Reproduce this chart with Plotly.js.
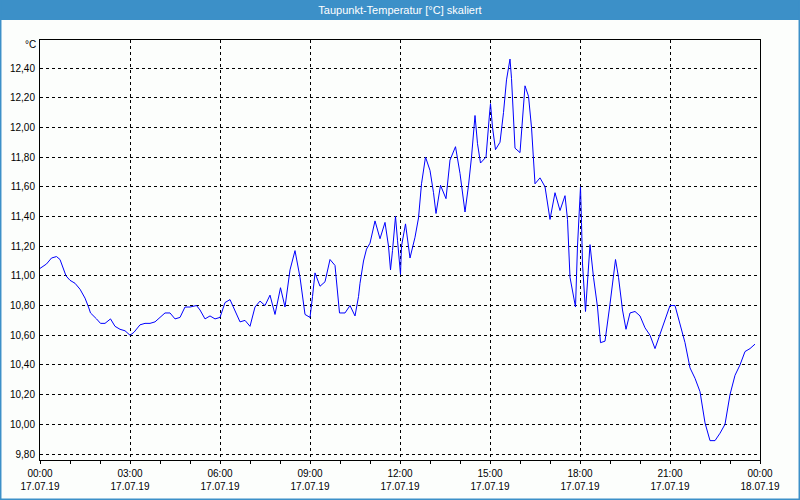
<!DOCTYPE html>
<html><head><meta charset="utf-8">
<script src="https://cdn.plot.ly/plotly-3.0.1.min.js"></script>
<style>html,body{margin:0;padding:0;background:#fcfefc}</style>
</head><body><div id="chart" style="width:800px;height:500px"></div>
<script>
const chartTitle = 'Taupunkt-Temperatur [°C] skaliert';
const unitLabel = '°C';
const day = '2019-07-17';
const times = ["00:00","00:13","00:23","00:33","00:40","00:47","00:52","01:00","01:10","01:20","01:30","01:37","01:41","01:53","02:01","02:10","02:21","02:30","02:40","02:50","03:00","03:08","03:20","03:30","03:40","03:50","04:00","04:10","04:20","04:30","04:40","04:50","05:00","05:13","05:20","05:30","05:40","05:50","06:00","06:10","06:20","06:30","06:40","06:50","07:00","07:10","07:20","07:30","07:40","07:50","08:01","08:10","08:20","08:30","08:40","08:50","09:00","09:05","09:10","09:20","09:30","09:40","09:50","09:59","10:10","10:20","10:30","10:37","10:40","10:47","10:53","11:00","11:10","11:20","11:30","11:37","11:41","11:45","11:51","11:55","11:59","12:01","12:03","12:11","12:20","12:30","12:37","12:43","12:51","13:00","13:07","13:12","13:21","13:32","13:40","13:51","14:00","14:10","14:17","14:23","14:30","14:35","14:41","14:52","14:59","15:01","15:05","15:11","15:20","15:27","15:33","15:40","15:43","15:50","16:00","16:10","16:17","16:23","16:30","16:40","16:50","17:00","17:10","17:20","17:30","17:35","17:40","17:47","17:51","17:55","17:59","18:01","18:03","18:05","18:11","18:20","18:27","18:35","18:41","18:50","19:00","19:11","19:17","19:25","19:32","19:40","19:50","20:00","20:10","20:20","20:30","20:40","20:50","21:00","21:10","21:20","21:30","21:40","21:50","22:00","22:10","22:20","22:30","22:40","22:50","23:00","23:10","23:20","23:30","23:40","23:50"];
const values = [11.05,11.08,11.12,11.13,11.11,11.04,11.00,10.97,10.95,10.91,10.85,10.79,10.75,10.71,10.68,10.68,10.71,10.66,10.64,10.63,10.60,10.62,10.67,10.68,10.68,10.69,10.72,10.75,10.75,10.71,10.72,10.79,10.79,10.80,10.77,10.71,10.73,10.71,10.72,10.82,10.84,10.77,10.69,10.70,10.66,10.79,10.83,10.80,10.87,10.74,10.92,10.79,11.04,11.17,10.99,10.74,10.72,10.86,11.02,10.93,10.96,11.11,11.07,10.75,10.75,10.80,10.73,10.86,10.95,11.10,11.18,11.22,11.37,11.25,11.36,11.20,11.04,11.17,11.40,11.24,11.06,11.01,11.20,11.35,11.12,11.26,11.39,11.62,11.80,11.71,11.56,11.42,11.61,11.52,11.78,11.87,11.69,11.43,11.61,11.80,12.08,11.89,11.76,11.80,12.09,12.16,12.00,11.85,11.90,12.10,12.32,12.46,12.33,11.86,11.83,12.28,12.21,12.00,11.62,11.66,11.60,11.38,11.56,11.44,11.54,11.38,10.99,10.86,10.79,11.20,11.53,11.60,11.36,11.08,10.76,11.21,10.99,10.79,10.55,10.56,10.81,11.11,10.99,10.77,10.64,10.75,10.76,10.73,10.65,10.60,10.51,10.61,10.71,10.80,10.80,10.68,10.55,10.38,10.31,10.22,10.01,9.89,9.89,9.94,10.00,10.20,10.33,10.40,10.49,10.51,10.54];
const yTicks = [9.8,10.0,10.2,10.4,10.6,10.8,11.0,11.2,11.4,11.6,11.8,12.0,12.2,12.4];

const xs = times.map(t => day + ' ' + t);
const font = {family: 'Liberation Sans, Arial, sans-serif', size: 10, color: '#000'};
const blue = '#3c90c8';

const traces = [
  {x: xs, y: values, type: 'scatter', mode: 'lines', line: {color: '#0000ff', width: 1}, hoverinfo: 'x+y'},
  {x: xs, y: values, type: 'scatter', mode: 'lines', xaxis: 'x2', line: {color: 'rgba(0,0,0,0)', width: 0}, hoverinfo: 'skip', showlegend: false}
];

const xrange = ['2019-07-17 00:00', '2019-07-18 00:00'];
const layout = {
  width: 800, height: 500,
  margin: {l: 40, r: 40, t: 40, b: 40},
  paper_bgcolor: '#fcfefc', plot_bgcolor: '#fcfefc',
  showlegend: false,
  separators: ', ',
  font: font,
  title: {text: chartTitle, font: {family: 'Liberation Sans, Arial, sans-serif', size: 11, color: '#ffffff'},
          x: 0.5, xanchor: 'center', y: 0.98, yanchor: 'middle', yref: 'container'},
  xaxis: {
    type: 'date', range: xrange, tick0: '2019-07-17 00:00', dtick: 3 * 3600000,
    tickformat: '%H:%M', ticks: 'outside', ticklen: 3, tickcolor: '#000',
    minor: {dtick: 3600000, ticks: 'outside', ticklen: 3, tickcolor: '#000', showgrid: false},
    showgrid: true, gridcolor: '#000', griddash: '3px,3px', gridwidth: 1,
    showline: true, linecolor: '#000', linewidth: 1, mirror: true,
    zeroline: false, tickfont: font, ticklabelstandoff: 1
  },
  xaxis2: {
    type: 'date', overlaying: 'x', matches: 'x', anchor: 'y', side: 'bottom', range: xrange,
    tick0: '2019-07-17 00:00', dtick: 3 * 3600000, tickformat: '%d.%m.%y',
    ticks: '', showgrid: false, showline: false, zeroline: false, tickfont: font, ticklabelstandoff: 19
  },
  yaxis: {
    range: [9.7596, 12.5886], tickvals: yTicks, tickformat: '.2f',
    ticks: '', showgrid: true, gridcolor: '#000', griddash: '3px,3px', gridwidth: 1,
    showline: true, linecolor: '#000', linewidth: 1, mirror: true,
    zeroline: false, tickfont: font, ticklabelstandoff: 2
  },
  annotations: [
    {text: unitLabel, xref: 'paper', yref: 'paper', x: 0, y: 0.9893, xanchor: 'right', yanchor: 'middle',
     xshift: -2, showarrow: false, font: font}
  ],
  shapes: [
    {type: 'rect', xref: 'paper', yref: 'paper', x0: -0.0556, x1: 1.0556, y0: 1.0476, y1: 1.0953,
     fillcolor: blue, line: {width: 0}, layer: 'below'},
    {type: 'rect', xref: 'paper', yref: 'paper', x0: -0.0549, x1: 1.0549, y0: -0.0941, y1: 1.0953,
     fillcolor: 'rgba(0,0,0,0)', line: {color: blue, width: 2}, layer: 'below'}
  ]
};

Plotly.newPlot('chart', traces, layout, {displayModeBar: false, staticPlot: true});
</script>
</body></html>
